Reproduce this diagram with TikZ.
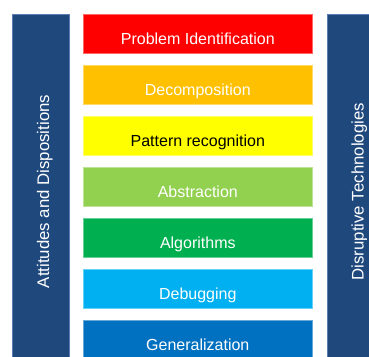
\documentclass[tikz,border=0pt]{standalone}
\usepackage{fontspec}
\setmainfont{Liberation Sans}
\usepackage{xcolor}
\usepackage{tikz}
\usetikzlibrary{positioning}
\definecolor{navy}{HTML}{1F497D}
\definecolor{navyedge}{HTML}{5B7DB1}
\definecolor{ptred}{HTML}{FF0000}
\definecolor{ptorange}{HTML}{FFC000}
\definecolor{ptyellow}{HTML}{FFFF00}
\definecolor{ptlime}{HTML}{92D050}
\definecolor{ptgreen}{HTML}{00B050}
\definecolor{ptsky}{HTML}{00B0F0}
\definecolor{ptblue}{HTML}{0070C0}
\tikzset{
  stage/.style={minimum width=229pt, minimum height=39pt, inner sep=0pt,
    line width=0.4pt, text=white, text height=22pt, text depth=0pt,
    font=\fontsize{16}{19}\selectfont},
  sidebar/.style={rotate=90, fill=navy, draw=navyedge, line width=0.6pt,
    minimum width=355pt, minimum height=57pt, inner sep=0pt, text=white,
    text height=16.4pt, text depth=0pt, font=\fontsize{16.8}{20}\selectfont}
}
\begin{document}
\begin{tikzpicture}[x=1pt,y=-1pt]
\useasboundingbox (0,0) rectangle (369,356);
\clip (0,0) rectangle (369,356);
% side bars
\node[sidebar] (attitudes) at (40.8,191.5) {Attitudes and Dispositions};
\node[sidebar] (disruptive) at (355.3,191.7) {Disruptive Technologies};
% stages
\node[stage, fill=ptred, draw=ptred!60!white] (problem) at (197.8,33.5) {Problem Identification};
\node[stage, fill=ptorange, draw=ptorange!60!white] (decomp) at (197.8,84.5) {Decomposition};
\node[stage, fill=ptyellow, draw=ptyellow!60!white, text=black] (pattern) at (197.8,135.5) {Pattern recognition};
\node[stage, fill=ptlime, draw=ptlime!60!white] (abstract) at (197.8,186.5) {Abstraction};
\node[stage, fill=ptgreen, draw=ptgreen!60!white] (algo) at (197.8,237.5) {Algorithms};
\node[stage, fill=ptsky, draw=ptsky!60!white] (debug) at (197.8,288.5) {Debugging};
\node[stage, fill=ptblue, draw=ptblue!60!white] (general) at (197.8,339.5) {Generalization};
\end{tikzpicture}
\end{document}
